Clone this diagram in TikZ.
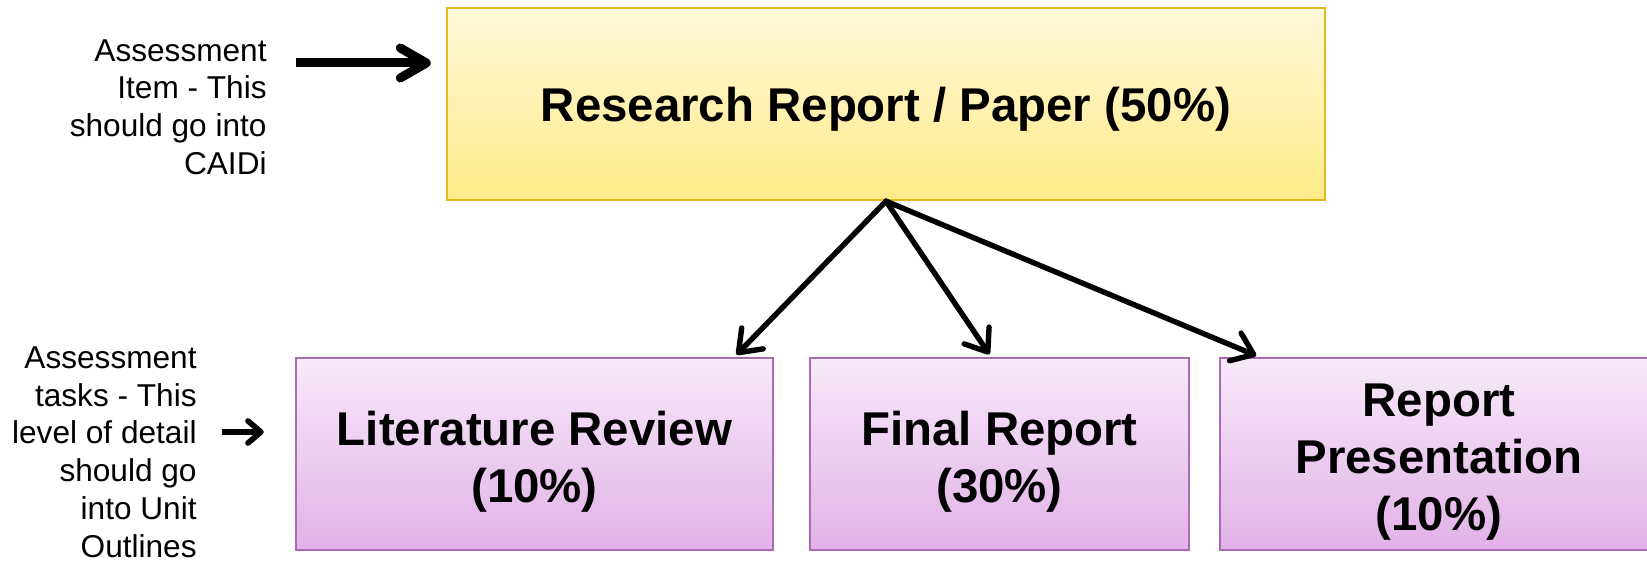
\documentclass[tikz,border=0pt]{standalone}
\usepackage{fontspec}
\setmainfont{Liberation Sans}
\usetikzlibrary{arrows.meta}

\definecolor{papertop}{HTML}{FFF8DA}
\definecolor{paperbot}{HTML}{FFEB88}
\definecolor{paperline}{HTML}{E3B820}
\definecolor{tasktop}{HTML}{F7EAF9}
\definecolor{taskbot}{HTML}{E2B1E8}
\definecolor{taskline}{HTML}{A96BB4}
\newcommand{\boxgap}{\rule{0pt}{24.5pt}}

\begin{document}
\begin{tikzpicture}[x=0.5pt,y=-0.5pt,
    itembox/.style={draw=paperline,line width=1.2pt,top color=papertop,bottom color=paperbot,
        minimum width=439pt,minimum height=96pt,inner sep=0pt,
        font=\fontsize{23.7}{28.5}\selectfont\bfseries},
    taskbox/.style={draw=taskline,line width=1.2pt,top color=tasktop,bottom color=taskbot,
        minimum height=96pt,inner sep=0pt,align=center,
        font=\fontsize{23.7}{28.5}\selectfont\bfseries},
    note/.style={anchor=east,align=right,inner sep=0pt,font=\fontsize{15.8}{18.9}\selectfont},
    link/.style={-{Straight Barb[length=10pt,width=15pt,line cap=round,line join=round]},
        line width=2.7pt,line cap=round},
    ]
    \useasboundingbox (0,0) rectangle (1647,565);
    % assessment item
    \node[itembox] (paper) at (886,104) {\rule{0pt}{22.5pt}Research Report / Paper (50\%)};
    % assessment tasks
    \node[taskbox,minimum width=238.5pt] (litrev) at (534.5,454) {\boxgap Literature Review\\(10\%)};
    \node[taskbox,minimum width=189.5pt] (finalrep) at (999.5,454) {\boxgap Final Report\\(30\%)};
    \node[taskbox,minimum width=219pt] (present) at (1439,454) {\boxgap Report\\Presentation\\(10\%)};
    % side notes
    \node[note] (itemnote) at (267,107) {Assessment\\Item - This\\should go into\\CAIDi};
    \node[note] (tasknote) at (197,452) {Assessment\\tasks - This\\level of detail\\should go\\into Unit\\Outlines};
    \coordinate (itemrow) at (0,63);
    \coordinate (taskrow) at (0,432);
    \draw[-{Straight Barb[length=13pt,width=15pt,line cap=round,line join=round]},line width=4.5pt,
        shorten <=14.5pt,shorten >=7.5pt] (itemnote.east |- itemrow) -- (paper.west |- itemrow);
    \draw[-{Straight Barb[length=6.5pt,width=11pt,line cap=round,line join=round]},line width=2.8pt,
        shorten <=12.5pt,shorten >=15.5pt] (tasknote.east |- taskrow) -- (litrev.west |- taskrow);
    % links
    \draw[link,shorten >=1.5pt] (paper.south) -- ([xshift=100pt]litrev.north);
    \draw[link,shorten >=1.5pt] (paper.south) -- ([xshift=-4.25pt]finalrep.north);
    \draw[link,shorten >=1.5pt] (paper.south) -- ([xshift=-90pt]present.north);
\end{tikzpicture}
\end{document}
